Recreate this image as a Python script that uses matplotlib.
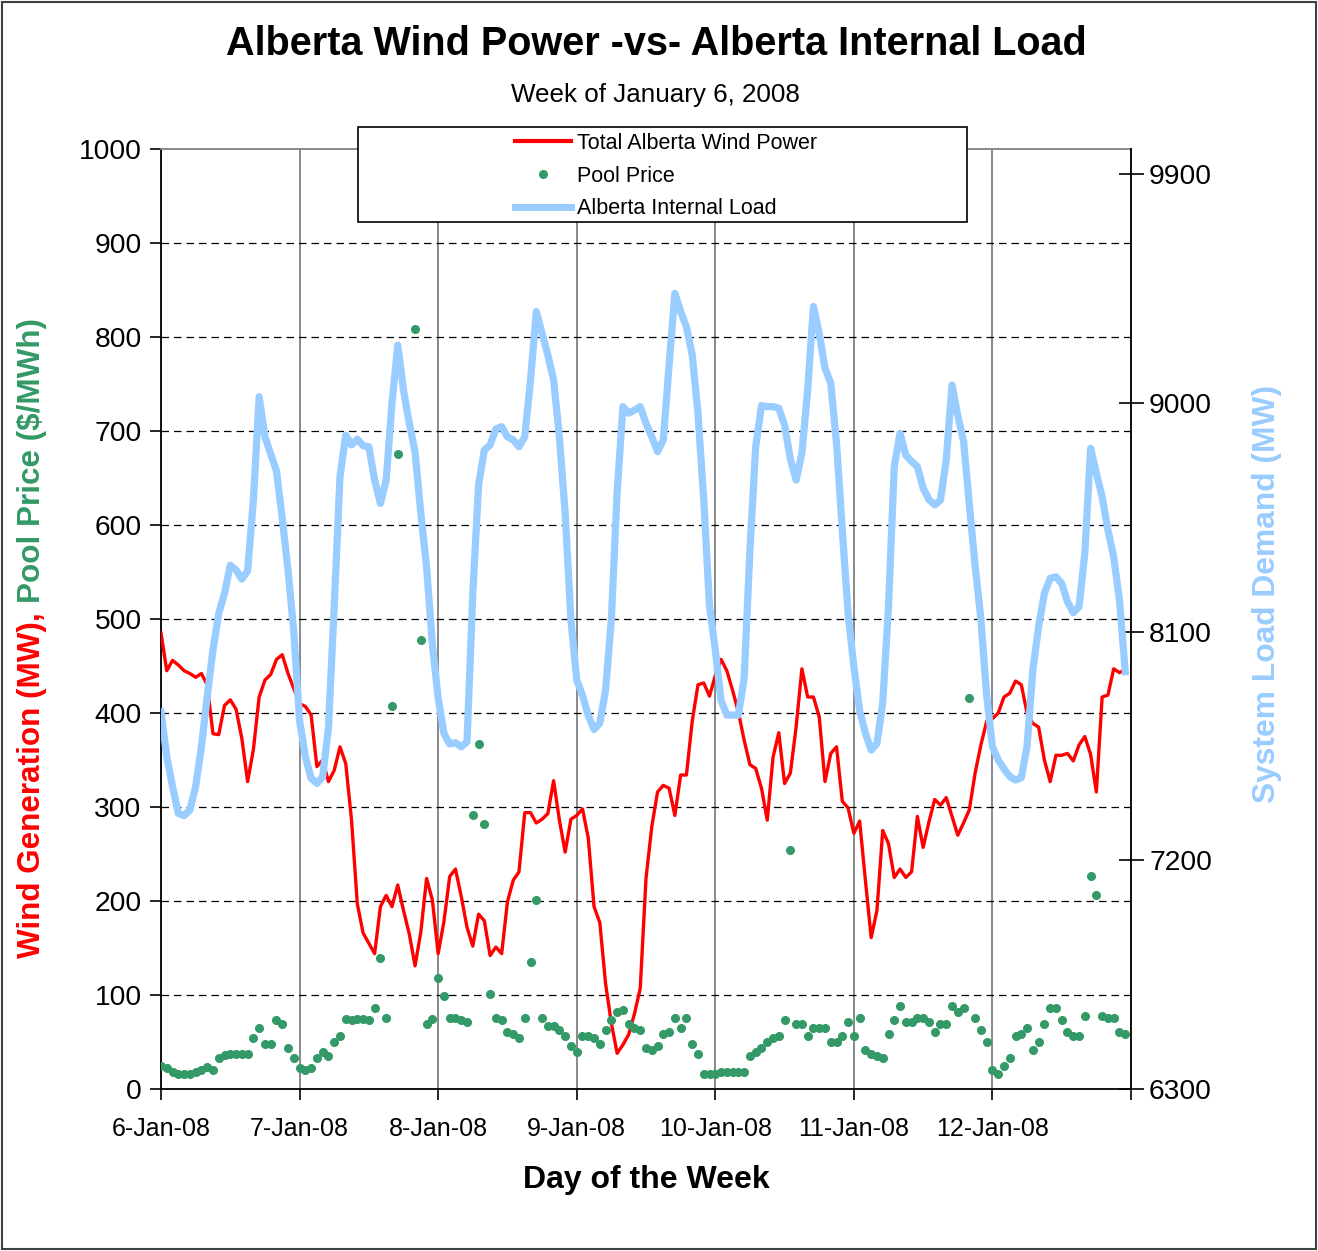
import numpy as np
import matplotlib
matplotlib.use('Agg')
import matplotlib.pyplot as plt
from matplotlib.patches import Rectangle
from matplotlib.lines import Line2D

plt.rcParams['font.family'] = ['Liberation Sans', 'DejaVu Sans']

day_labels = ['6-Jan-08', '7-Jan-08', '8-Jan-08', '9-Jan-08', '10-Jan-08', '11-Jan-08', '12-Jan-08']

wind_mw = [
    485, 445, 456, 451, 445, 442, 438, 442, 430, 378, 377, 408, 414, 404, 373, 327, 361, 417, 435, 441, 457, 462, 442, 426,
    410, 407, 398, 343, 350, 327, 339, 364, 346, 286, 197, 166, 155, 144, 194, 206, 194, 217, 190, 165, 131, 167, 224, 201,
    144, 178, 226, 234, 205, 172, 152, 186, 179, 142, 151, 144, 199, 222, 231, 294, 294, 283, 287, 293, 328, 286, 252, 287,
    291, 298, 267, 194, 177, 112, 70, 38, 47, 58, 80, 107, 224, 279, 316, 323, 320, 291, 334, 334, 391, 430, 432, 418,
    440, 457, 445, 424, 401, 371, 345, 341, 320, 286, 353, 379, 325, 336, 385, 447, 417, 417, 396, 327, 357, 364, 306, 299,
    272, 285, 222, 161, 190, 275, 261, 225, 234, 225, 231, 290, 257, 284, 308, 302, 310, 290, 270, 283, 297, 336, 366, 391,
    394, 400, 417, 421, 434, 430, 400, 389, 385, 350, 327, 355, 355, 357, 349, 366, 375, 356, 316, 417, 419, 447, 443, 446,
]

nan = float('nan')
pool_price = [
    24.5, 22.7, 18.4, 16, 16, 16, 18, 20, 23, 20, 32.6, 36.5, 37, 37, 37, 37, 54, 64.5, 47.5, 47.5, 73.4, 69, 43.6, 32.6,
    22, 20, 22, 32.6, 39.7, 35, 49.7, 56, 75, 73, 75, 75, 73, 86, 139, 75.5, 407, 676, nan, nan, 809, 478, 69, 75,
    118, 99, 75.5, 75.5, 73, 71, 292, 367, 282, 101, 75.5, 73, 60.6, 58.5, 54, 75.5, 135, 200.7, 75.5, 67, 67, 63, 56, 45.7,
    39.4, 56, 56, 54, 48, 62.8, 73, 82, 84, 69, 65, 62.8, 43.6, 41.5, 45.7, 58.5, 60.6, 75.5, 65, 75.5, 48, 37, 16, 16,
    16, 18, 18, 18, 18, 18, 35, 39.4, 43.6, 50, 54, 56, 73, 254, 69, 69, 56, 65, 65, 65, 50, 50, 56, 71,
    56, 75.5, 41.5, 37, 35, 33, 58.5, 73, 88, 71, 71, 75.5, 75.5, 71, 60.6, 69, 69, 88, 82, 86, 416, 75.5, 63, 50,
    20, 16, 24.5, 33, 56, 58.5, 65, 41.5, 50, 69, 86, 86, 73, 60.6, 56, 56, 77.7, 227, 206, 77.7, 75.5, 75.5, 60.6, 58.5,
]

internal_load = [
    7785, 7608, 7490, 7385, 7376, 7398, 7490, 7647, 7844, 8028, 8172, 8251, 8362, 8343, 8307, 8339, 8618, 9025, 8867, 8800, 8732, 8546, 8343, 8100,
    7750, 7608, 7523, 7503, 7529, 7720, 8200, 8710, 8874, 8835, 8858, 8832, 8828, 8697, 8605, 8697, 8999, 9228, 9051, 8920, 8809, 8566, 8356, 8050,
    7840, 7700, 7658, 7663, 7647, 7667, 8250, 8677, 8815, 8835, 8898, 8907, 8867, 8855, 8828, 8867, 9091, 9360, 9274, 9189, 9091, 8867, 8566, 8146,
    7910, 7850, 7770, 7715, 7740, 7870, 8150, 8650, 8986, 8960, 8972, 8986, 8920, 8867, 8809, 8855, 9150, 9432, 9360, 9300, 9190, 8960, 8620, 8200,
    8028, 7830, 7772, 7772, 7772, 7917, 8420, 8828, 8990, 8986, 8986, 8980, 8913, 8780, 8697, 8802, 9051, 9380, 9274, 9137, 9078, 8841, 8500, 8172,
    7962, 7790, 7700, 7634, 7660, 7820, 8200, 8750, 8881, 8795, 8770, 8750, 8665, 8620, 8599, 8618, 8776, 9071, 8950, 8850, 8600, 8360, 8150, 7850,
    7647, 7595, 7560, 7530, 7516, 7525, 7650, 7950, 8120, 8251, 8310, 8316, 8290, 8218, 8175, 8198, 8408, 8822, 8723, 8631, 8500, 8395, 8225, 7943,
]

hours = np.arange(len(wind_mw))

RED = '#FF0000'
GREEN = '#339966'
BLUE = '#99CCFF'

W, H = 1318, 1251
fig = plt.figure(figsize=(W / 100, H / 100), dpi=100)
ax = fig.add_axes([161 / W, 1 - 1089 / H, (1131 - 161) / W, (1089 - 149) / H])
ax2 = ax.twinx()

ax.set_xlim(0, 168)
ax.set_ylim(0, 1000)
ax2.set_ylim(6300, 10000)

ax.set_xticks(np.arange(0, 169, 24))
ax.set_xticklabels(day_labels + [''])
ax.set_yticks(np.arange(0, 1001, 100))
ax2.set_yticks([6300, 7200, 8100, 9000, 9900])

ax.grid(axis='x', color='#808080', linewidth=1.3, linestyle='-')
ax.grid(axis='y', color='black', linewidth=0.9, linestyle=(0, (6, 4)))
glines = ax.yaxis.get_gridlines()
glines[0].set_visible(False)
glines[-1].set_visible(False)
ax.set_axisbelow(True)

ax.plot(hours, wind_mw, color=RED, linewidth=2.4, zorder=3)
ax.plot(hours, pool_price, linestyle='none', marker='o', markersize=5.5,
        markerfacecolor=GREEN, markeredgecolor=GREEN, zorder=4)
ax2.plot(hours, internal_load, color=BLUE, linewidth=5.2, solid_joinstyle='round', zorder=3)

for s in ['left', 'bottom']:
    ax.spines[s].set_color('black')
    ax.spines[s].set_linewidth(1.3)
ax.spines['top'].set_color('#808080')
ax.spines['top'].set_linewidth(1.3)
ax.spines['right'].set_visible(False)
for s in ['left', 'bottom', 'top']:
    ax2.spines[s].set_visible(False)
ax2.spines['right'].set_color('black')
ax2.spines['right'].set_linewidth(1.3)

ax.tick_params(axis='y', direction='out', length=8, width=1.2, labelsize=20.3, pad=6)
ax.tick_params(axis='x', direction='out', length=8, width=1.2, labelsize=18, pad=12)
ax2.tick_params(axis='y', direction='inout', length=18, width=1.2, labelsize=20.3, pad=4)

# Titles and labels
fig.text(656 / W, 1 - 44 / H, 'Alberta Wind Power -vs- Alberta Internal Load',
         ha='center', va='center', fontsize=28.5, fontweight='bold')
fig.text(655 / W, 1 - 95 / H, 'Week of January 6, 2008',
         ha='center', va='center', fontsize=18.7)
fig.text(646 / W, 1 - 1180 / H, 'Day of the Week',
         ha='center', va='center', fontsize=23, fontweight='bold')
fig.text(1267 / W, 1 - 594 / H, 'System Load Demand (MW)', rotation=90,
         ha='center', va='center', fontsize=22.9, fontweight='bold', color=BLUE)

t_red = fig.text(32 / W, 1 - 958 / H, 'Wind Generation (MW),', rotation=90,
                 ha='center', va='bottom', fontsize=22.6, fontweight='bold', color=RED)
fig.canvas.draw()
bb = t_red.get_window_extent(fig.canvas.get_renderer())
fig.text(32 / W, (bb.y1 + 9) / fig.bbox.height, 'Pool Price ($/MWh)', rotation=90,
         ha='center', va='bottom', fontsize=22.6, fontweight='bold', color=GREEN)

# Legend box
fig.patches.append(Rectangle((358 / W, 1 - 222 / H), (967 - 358) / W, (222 - 127) / H,
                             transform=fig.transFigure, facecolor='white',
                             edgecolor='black', linewidth=1.2, zorder=4))
handles = [Line2D([], [], color=RED, linewidth=3),
           Line2D([], [], linestyle='none', marker='o', markersize=5.5,
                  markerfacecolor=GREEN, markeredgecolor=GREEN),
           Line2D([], [], color=BLUE, linewidth=5)]
labels = ['Total Alberta Wind Power', 'Pool Price', 'Alberta Internal Load']
leg = fig.legend(handles, labels, loc='center', bbox_to_anchor=(666 / W, 1 - 176 / H),
                 frameon=False, handlelength=2.6, handletextpad=0.25, labelspacing=0.55,
                 prop={'family': ['Liberation Sans'], 'size': 15.5})
leg.set_zorder(5)

# Outer border
fig.patches.append(Rectangle((0.0015, 0.0015), 0.997, 0.997, transform=fig.transFigure,
                             fill=False, edgecolor='#404040', linewidth=1.5, zorder=10))

fig.savefig('out.png', dpi=100)
